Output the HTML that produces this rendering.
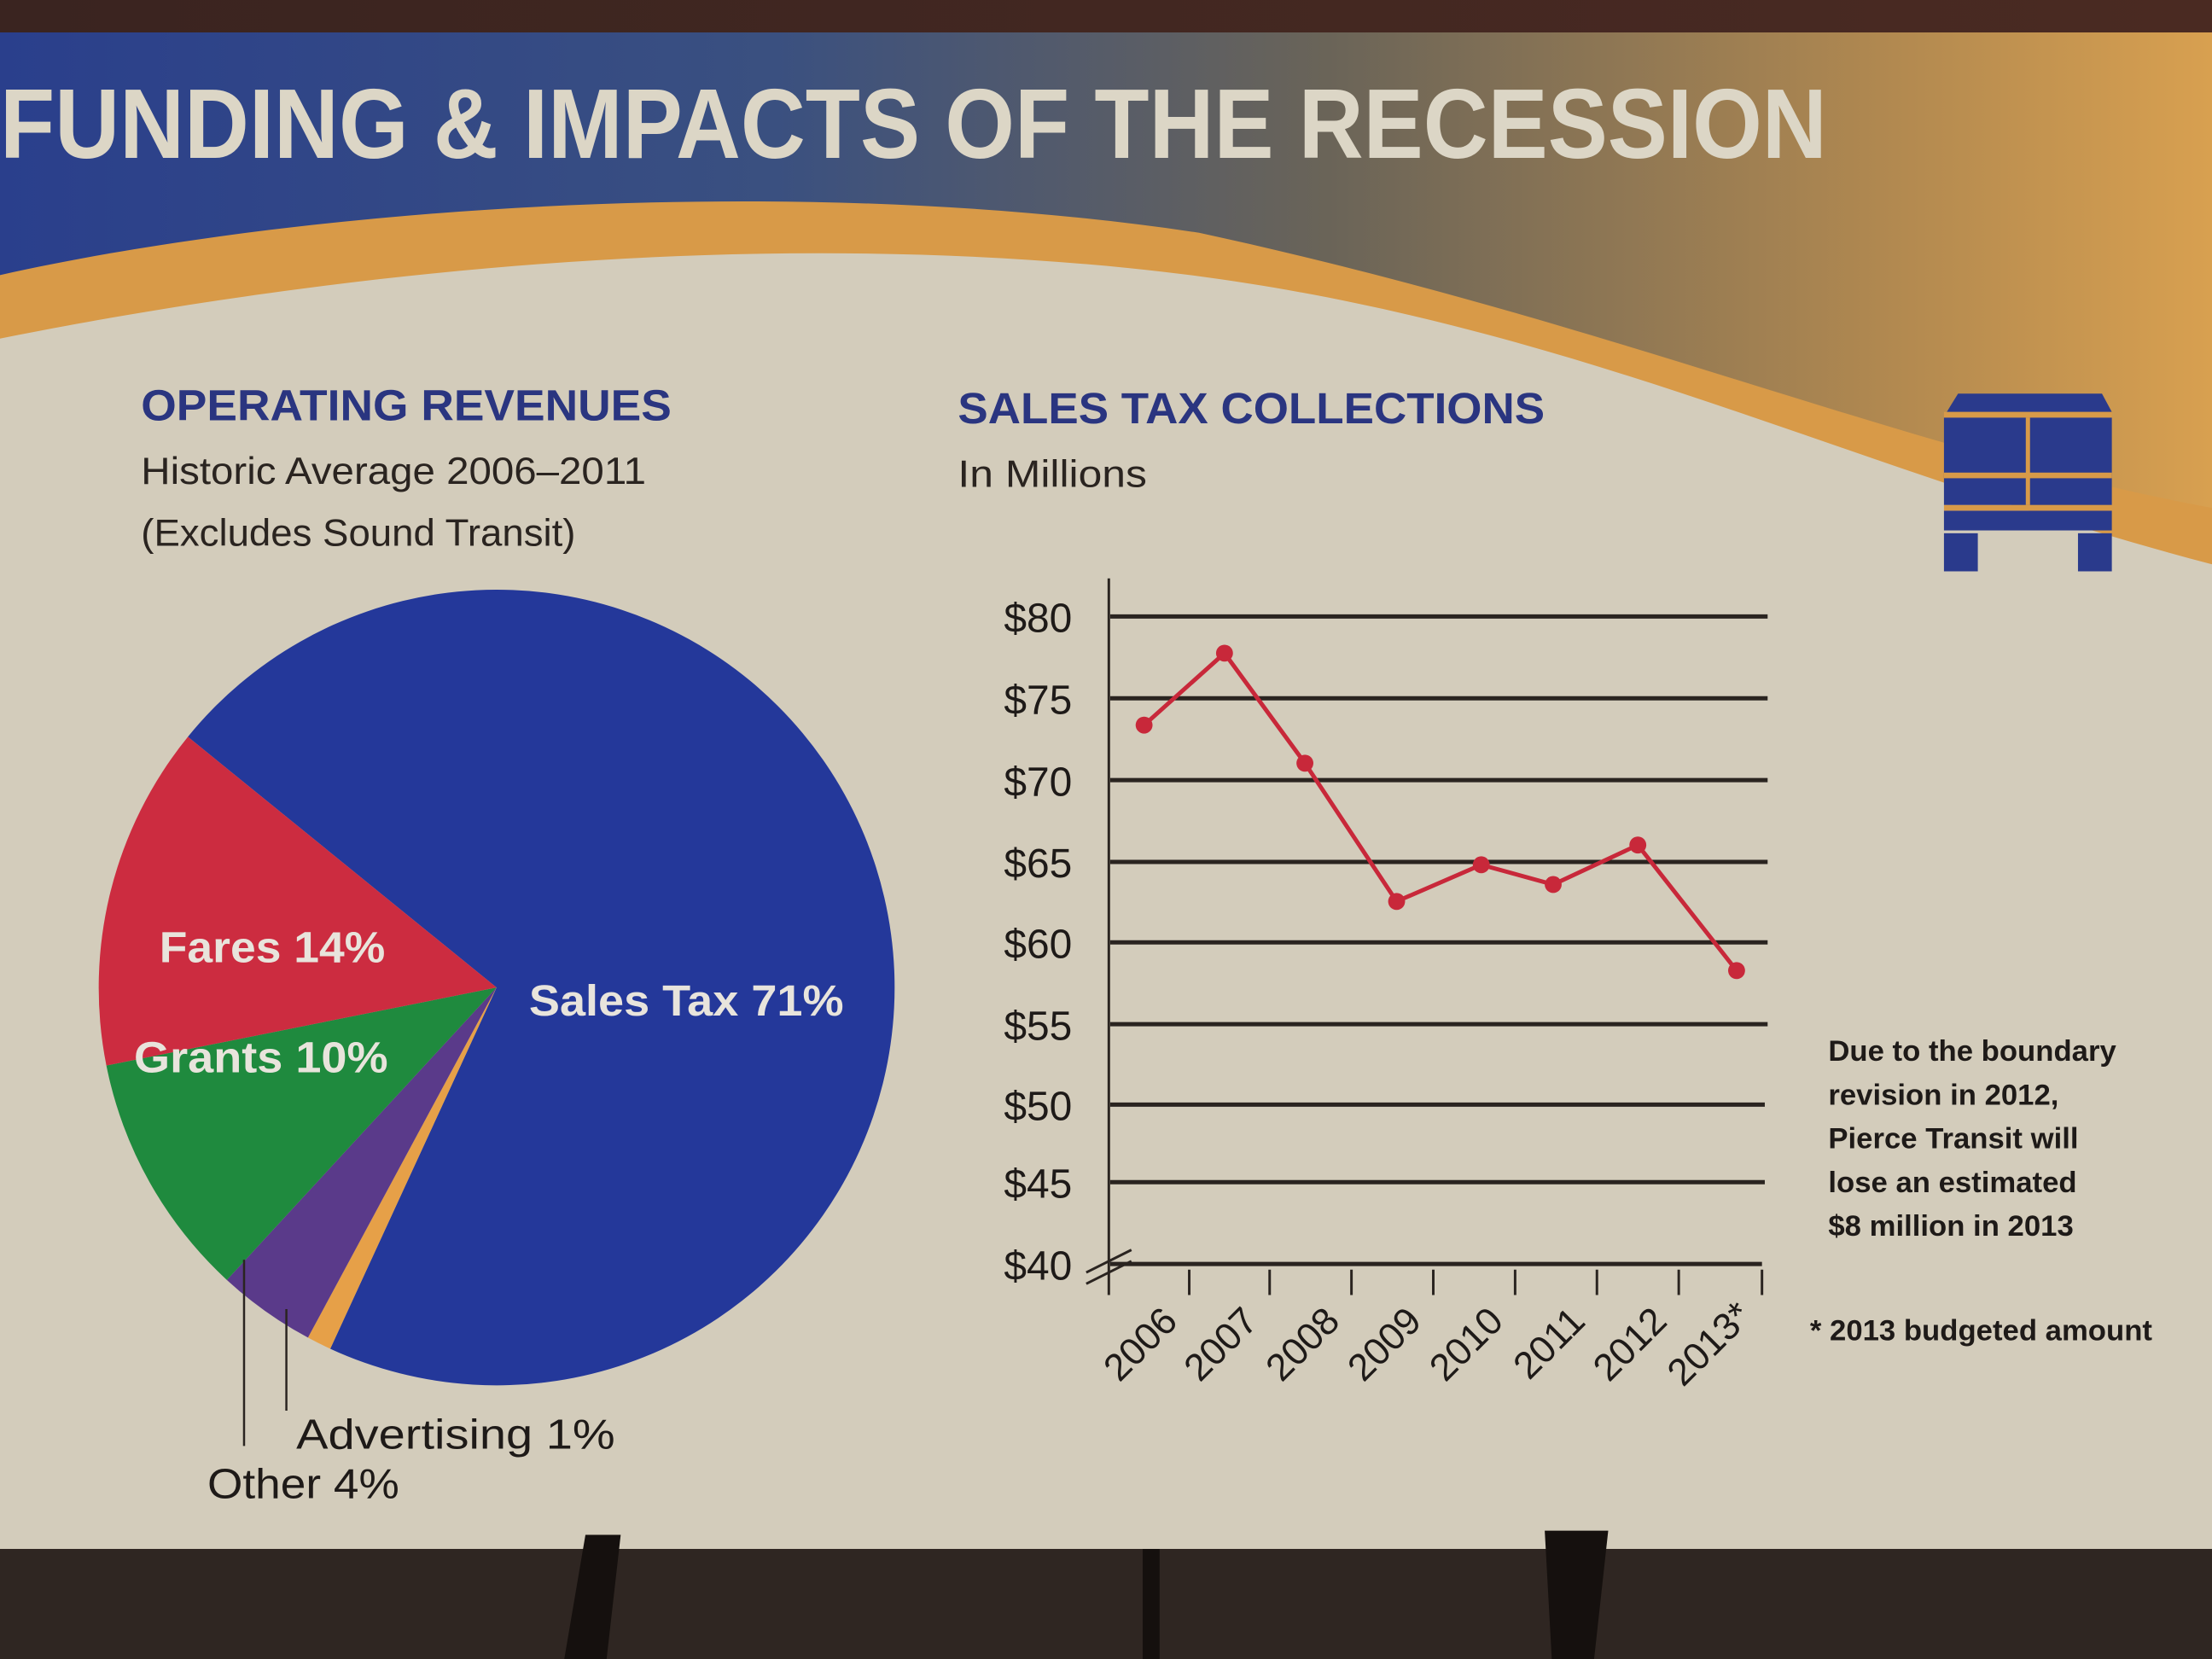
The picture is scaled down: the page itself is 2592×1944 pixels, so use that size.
<!DOCTYPE html>
<html><head><meta charset="utf-8"><style>html,body{margin:0;padding:0;background:#2e2420;}svg{display:block}</style></head>
<body>
<svg width="2592" height="1944" viewBox="0 0 1568 1176" xmlns="http://www.w3.org/2000/svg" font-family="'Liberation Sans', sans-serif">
<defs>
<linearGradient id="hdr" x1="0" y1="0" x2="1" y2="0">
<stop offset="0" stop-color="#2a3f8c"/><stop offset="0.35" stop-color="#3a5080"/><stop offset="0.6" stop-color="#6a6458"/><stop offset="0.85" stop-color="#b08850"/><stop offset="1" stop-color="#d8a050"/>
</linearGradient>
<linearGradient id="wall" x1="0" y1="0" x2="1" y2="0"><stop offset="0" stop-color="#3a2420"/><stop offset="1" stop-color="#4a2a22"/></linearGradient>
</defs>
<rect width="1568" height="1176" fill="#2f2622"/>
<rect width="1568" height="25" fill="url(#wall)"/>
<rect x="0" y="23" width="1568" height="1075" fill="#d3ccbb"/>
<path d="M0,23 H1568 V400 C1300,330 1100,220 800,190 C500,160 200,200 0,240 Z" fill="#d89a48"/>
<path d="M0,23 H1568 V360 C1350,320 1150,230 850,165 C550,120 200,150 0,195 Z" fill="url(#hdr)"/>
<text x="0" y="112" font-size="70" font-weight="bold" fill="#dcd6c6" textLength="1295" lengthAdjust="spacingAndGlyphs">FUNDING &amp; IMPACTS OF THE RECESSION</text>
<text x="100" y="298" font-size="31" font-weight="bold" fill="#2a3580" textLength="376" lengthAdjust="spacingAndGlyphs">OPERATING REVENUES</text>
<text x="100" y="343" font-size="27" fill="#2a2420" textLength="358" lengthAdjust="spacingAndGlyphs">Historic Average 2006–2011</text>
<text x="100" y="387" font-size="27" fill="#2a2420" textLength="308" lengthAdjust="spacingAndGlyphs">(Excludes Sound Transit)</text>
<text x="679" y="300" font-size="31" font-weight="bold" fill="#2a3580" textLength="416" lengthAdjust="spacingAndGlyphs">SALES TAX COLLECTIONS</text>
<text x="679" y="345" font-size="27" fill="#2a2420" textLength="134" lengthAdjust="spacingAndGlyphs">In Millions</text>
<g>
<path d="M352,700 L133.2,522.3 A282,282 0 1 1 234.1,956.1 Z" fill="#24389a"/>
<path d="M352,700 L234.1,956.1 A282,282 0 0 1 218.3,948.2 Z" fill="#e6a048"/>
<path d="M352,700 L218.3,948.2 A282,282 0 0 1 160.8,907.3 Z" fill="#5a3a8a"/>
<path d="M352,700 L160.8,907.3 A282,282 0 0 1 75.4,755.3 Z" fill="#1f8a3e"/>
<path d="M352,700 L75.4,755.3 A282,282 0 0 1 133.2,522.3 Z" fill="#cc2c40"/>
</g>
<text x="375" y="720" font-size="31" font-weight="bold" fill="#e8e4dc" textLength="223" lengthAdjust="spacingAndGlyphs">Sales Tax 71%</text>
<text x="113" y="682" font-size="31" font-weight="bold" fill="#e8e4dc" textLength="160" lengthAdjust="spacingAndGlyphs">Fares 14%</text>
<text x="95" y="760" font-size="31" font-weight="bold" fill="#e8e4dc" textLength="180" lengthAdjust="spacingAndGlyphs">Grants 10%</text>
<line x1="173" y1="893" x2="173" y2="1025" stroke="#2a2420" stroke-width="1.5"/>
<line x1="203" y1="928" x2="203" y2="1000" stroke="#2a2420" stroke-width="1.5"/>
<text x="210" y="1027" font-size="30" fill="#1e1a18" textLength="226" lengthAdjust="spacingAndGlyphs">Advertising 1%</text>
<text x="147" y="1062" font-size="30" fill="#1e1a18" textLength="136" lengthAdjust="spacingAndGlyphs">Other 4%</text>
<g stroke="#2a2420" stroke-width="3">
<line x1="787" y1="437" x2="1253" y2="437"/><line x1="787" y1="495" x2="1253" y2="495"/>
<line x1="787" y1="553" x2="1253" y2="553"/><line x1="787" y1="611" x2="1253" y2="611"/>
<line x1="787" y1="668" x2="1253" y2="668"/><line x1="787" y1="726" x2="1253" y2="726"/>
<line x1="787" y1="783" x2="1251" y2="783"/><line x1="787" y1="838" x2="1251" y2="838"/>
<line x1="787" y1="896" x2="1249" y2="896"/>
</g>
<g stroke="#2a2420" stroke-width="1.8">
<line x1="786" y1="410" x2="786" y2="918"/>
<line x1="843" y1="900" x2="843" y2="918"/><line x1="900" y1="900" x2="900" y2="918"/>
<line x1="958" y1="900" x2="958" y2="918"/><line x1="1016" y1="900" x2="1016" y2="918"/>
<line x1="1074" y1="900" x2="1074" y2="918"/><line x1="1132" y1="900" x2="1132" y2="918"/>
<line x1="1190" y1="900" x2="1190" y2="918"/><line x1="1249" y1="900" x2="1249" y2="918"/>
<line x1="770" y1="902" x2="802" y2="886"/><line x1="770" y1="910" x2="802" y2="894"/>
</g>
<g font-size="29" fill="#1e1a18" text-anchor="end">
<text x="760" y="448">$80</text><text x="760" y="506">$75</text><text x="760" y="564">$70</text>
<text x="760" y="622">$65</text><text x="760" y="679">$60</text><text x="760" y="737">$55</text>
<text x="760" y="794">$50</text><text x="760" y="849">$45</text><text x="760" y="907">$40</text>
</g>
<g font-size="27" fill="#1e1a18" text-anchor="end">
<text transform="translate(836,938) rotate(-45)">2006</text>
<text transform="translate(893,938) rotate(-45)">2007</text>
<text transform="translate(951,938) rotate(-45)">2008</text>
<text transform="translate(1009,938) rotate(-45)">2009</text>
<text transform="translate(1067,938) rotate(-45)">2010</text>
<text transform="translate(1125,938) rotate(-45)">2011</text>
<text transform="translate(1183,938) rotate(-45)">2012</text>
<text transform="translate(1243,934) rotate(-45)">2013*</text>
</g>
<polyline points="811,514 868,463 925,541 990,639 1050,613 1101,627 1161,599 1231,688" fill="none" stroke="#c8283a" stroke-width="3"/>
<g fill="#c8283a">
<circle cx="811" cy="514" r="6"/><circle cx="868" cy="463" r="6"/><circle cx="925" cy="541" r="6"/><circle cx="990" cy="639" r="6"/>
<circle cx="1050" cy="613" r="6"/><circle cx="1101" cy="627" r="6"/><circle cx="1161" cy="599" r="6"/><circle cx="1231" cy="688" r="6"/>
</g>
<g font-size="21" font-weight="bold" fill="#1e1a18">
<text x="1296" y="752">Due to the boundary</text>
<text x="1296" y="783">revision in 2012,</text>
<text x="1296" y="814">Pierce Transit will</text>
<text x="1296" y="845">lose an estimated</text>
<text x="1296" y="876">$8 million in 2013</text>
<text x="1283" y="950">* 2013 budgeted amount</text>
</g>
<g fill="#2a3a8c">
<path d="M1388,279 H1490 L1497,292 H1380 Z"/>
<rect x="1378" y="296" width="119" height="62"/>
<rect x="1378" y="362" width="119" height="14"/>
<rect x="1378" y="378" width="24" height="27"/>
<rect x="1473" y="378" width="24" height="27"/>
</g>
<g fill="#d89a48">
<rect x="1378" y="292" width="119" height="4"/>
<rect x="1378" y="335" width="119" height="4"/>
<rect x="1436" y="296" width="3" height="62"/>
<rect x="1378" y="358" width="119" height="4"/>
</g>
<rect x="0" y="1098" width="1568" height="78" fill="#2f2622"/>
<path d="M415,1088 L440,1088 L430,1176 L400,1176 Z" fill="#15100e"/>
<path d="M1095,1085 L1140,1085 L1130,1176 L1100,1176 Z" fill="#15100e"/>
<rect x="810" y="1098" width="12" height="78" fill="#15100e"/>
</svg>
</body></html>
